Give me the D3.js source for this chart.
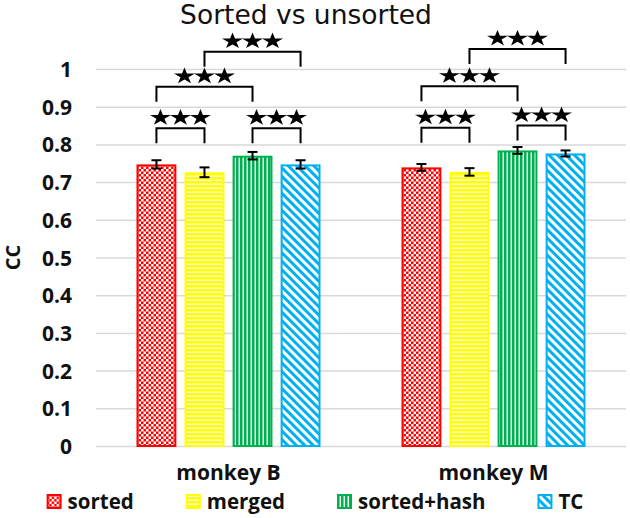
<!DOCTYPE html>
<html>
<head>
<meta charset="utf-8">
<script src="https://cdn.jsdelivr.net/npm/d3@7"></script>
<style>
  body { margin: 0; background: #fff; }
  svg { display: block; }
  .tick-label, .cat-label, .legend-label, .y-title { font-family: "Open Sans", sans-serif; font-weight: bold; fill: #111; }
</style>
</head>
<body>
<div id="chart"></div>
<script>
// data
const groups = ["monkey B", "monkey M"]
const seriesNames = ["sorted", "merged", "sorted+hash", "TC"]
const ccSorted = [0.747, 0.739]
const ccMerged = [0.726, 0.727]
const ccHash = [0.770, 0.784]
const ccTC = [0.747, 0.776]
const errSorted = [0.011, 0.009]
const errMerged = [0.013, 0.010]
const errHash = [0.010, 0.009]
const errTC = [0.011, 0.008]
const yTicks = [0, 0.1, 0.2, 0.3, 0.4, 0.5, 0.6, 0.7, 0.8, 0.9, 1]
// significance: group, from, to, bracket level (CC units), stars
const sigPairs = [
  ["monkey B", "sorted", "merged", 0.843, 3],
  ["monkey B", "sorted+hash", "TC", 0.843, 3],
  ["monkey B", "sorted", "sorted+hash", 0.953, 3],
  ["monkey B", "merged", "TC", 1.046, 3],
  ["monkey M", "sorted", "merged", 0.844, 3],
  ["monkey M", "sorted+hash", "TC", 0.850, 3],
  ["monkey M", "sorted", "sorted+hash", 0.954, 3],
  ["monkey M", "merged", "TC", 1.053, 3],
]

const means = [ccSorted, ccMerged, ccHash, ccTC]
const errs = [errSorted, errMerged, errHash, errTC]
const colors = ["#ff0000", "#ffff00", "#00b050", "#00b0f0"]
const patIds = ["pat_check", "pat_hlines", "pat_vlines", "pat_diag"]

const W = 630, H = 518
const dim = {ml: 96, mr: 4, mt: 69, mb: 72}
dim.width = W - dim.ml - dim.mr
dim.height = H - dim.mt - dim.mb

const svg = d3.select("#chart").append("svg").attr("width", W).attr("height", H)

const defs = svg.append("defs")
// red checkerboard
const pc = defs.append("pattern").attr("id", "pat_check").attr("patternUnits", "userSpaceOnUse")
  .attr("width", 5).attr("height", 5)
pc.append("rect").attr("width", 5).attr("height", 5).attr("fill", colors[0])
pc.append("rect").attr("width", 2.5).attr("height", 2.5).attr("fill", "#fff")
pc.append("rect").attr("x", 2.5).attr("y", 2.5).attr("width", 2.5).attr("height", 2.5).attr("fill", "#fff")
// yellow horizontal lines
const ph = defs.append("pattern").attr("id", "pat_hlines").attr("patternUnits", "userSpaceOnUse")
  .attr("width", 4).attr("height", 4)
ph.append("rect").attr("width", 4).attr("height", 4).attr("fill", colors[1])
ph.append("rect").attr("y", 2.5).attr("width", 4).attr("height", 1.5).attr("fill", "#fffbd0")
// green vertical lines
const pv = defs.append("pattern").attr("id", "pat_vlines").attr("patternUnits", "userSpaceOnUse")
  .attr("width", 4).attr("height", 4)
pv.append("rect").attr("width", 4).attr("height", 4).attr("fill", colors[2])
pv.append("rect").attr("x", 2.5).attr("width", 1.5).attr("height", 4).attr("fill", "#e8f8ee")
// blue diagonal lines
const pd = defs.append("pattern").attr("id", "pat_diag").attr("patternUnits", "userSpaceOnUse")
  .attr("width", 6).attr("height", 6).attr("patternTransform", "rotate(-45)")
pd.append("rect").attr("width", 6).attr("height", 6).attr("fill", "#fff")
pd.append("rect").attr("width", 3).attr("height", 6).attr("fill", colors[3])

const g = svg.append("g").attr("transform", "translate(" + dim.ml + "," + dim.mt + ")")

const x0 = d3.scaleBand().domain(groups).range([0, dim.width])
const x1 = d3.scaleBand().domain(seriesNames).range([40.5, x0.bandwidth() - 40.5]).paddingInner(0.17)
const y = d3.scaleLinear().domain([0, 1]).range([dim.height, 0])

// gridlines
const axisY = d3.axisLeft(y).tickValues(yTicks).tickSize(-dim.width).tickFormat(d => d)
const ga = g.append("g").call(axisY)
ga.select(".domain").remove()
ga.selectAll(".tick line").attr("stroke", "#d9d9d9").attr("stroke-width", 1.5)
ga.selectAll(".tick text").attr("class", "tick-label").attr("x", -24).attr("dy", "0.36em")
  .style("font-size", "21px").style("font-family", "'Open Sans', sans-serif").style("font-weight", "bold")
  .attr("fill", "#111")

// bars
const bars = []
groups.forEach((grp, gi) => {
  seriesNames.forEach((s, si) => {
    bars.push({grp, s, si, v: means[si][gi], e: errs[si][gi]})
  })
})

const bg = g.append("g")
bg.selectAll("rect.bar").data(bars).join("rect")
  .attr("class", "bar")
  .attr("x", d => x0(d.grp) + x1(d.s) + 1)
  .attr("y", d => y(d.v) + 1)
  .attr("width", x1.bandwidth() - 2)
  .attr("height", d => y(0) - y(d.v) - 1)
  .attr("fill", d => "url(#" + patIds[d.si] + ")")
  .attr("stroke", d => colors[d.si])
  .attr("stroke-width", 2)

// error bars
const eg = g.append("g").attr("stroke", "#000").attr("stroke-width", 2)
bars.forEach(d => {
  const cx = x0(d.grp) + x1(d.s) + x1.bandwidth() / 2
  eg.append("line").attr("x1", cx).attr("x2", cx).attr("y1", y(d.v - d.e)).attr("y2", y(d.v + d.e))
  eg.append("line").attr("x1", cx - 5).attr("x2", cx + 5).attr("y1", y(d.v - d.e)).attr("y2", y(d.v - d.e))
  eg.append("line").attr("x1", cx - 5).attr("x2", cx + 5).attr("y1", y(d.v + d.e)).attr("y2", y(d.v + d.e))
})

// significance brackets
const star = d3.symbol().type(d3.symbolStar).size(92)
const sg = g.append("g")
sigPairs.forEach(([grp, a, b, lvl, n]) => {
  const xa = x0(grp) + x1(a) + x1.bandwidth() / 2
  const xb = x0(grp) + x1(b) + x1.bandwidth() / 2
  const yl = y(lvl)
  sg.append("path")
    .attr("d", "M" + xa + "," + (yl + 15) + "V" + yl + "H" + xb + "V" + (yl + 15))
    .attr("fill", "none").attr("stroke", "#000").attr("stroke-width", 2)
  const cx = (xa + xb) / 2
  for (let i = 0; i < n; i++) {
    sg.append("path").attr("d", star())
      .attr("transform", "translate(" + (cx + (i - (n - 1) / 2) * 20) + "," + (yl - 10.5) + ") scale(1.22,0.95)")
      .attr("fill", "#000")
  }
})

// category labels
g.append("g").selectAll("text").data(groups).join("text")
  .attr("class", "cat-label")
  .attr("x", d => x0(d) + x0.bandwidth() / 2)
  .attr("y", dim.height + 34)
  .attr("text-anchor", "middle")
  .style("font-size", "21px")
  .text(d => d)

// y title
svg.append("text").attr("class", "y-title")
  .attr("transform", "translate(20," + (dim.mt + dim.height / 2) + ") rotate(-90)")
  .attr("text-anchor", "middle")
  .style("font-size", "20px")
  .text("CC")

// title
svg.append("text")
  .attr("x", 306).attr("y", 24)
  .attr("text-anchor", "middle")
  .style("font-family", "'DejaVu Sans', sans-serif")
  .style("font-size", "26.5px")
  .attr("fill", "#111")
  .text("Sorted vs unsorted")

// legend
const lg = svg.append("g")
const items = seriesNames.map((s, i) => {
  const it = lg.append("g")
  it.append("rect").attr("x", 1).attr("y", -14).attr("width", 13).attr("height", 13)
    .attr("fill", "url(#" + patIds[i] + ")").attr("stroke", colors[i]).attr("stroke-width", 2)
  const t = it.append("text").attr("class", "legend-label").attr("x", 21).attr("y", 0)
    .style("font-size", "20.5px").text(s)
  return {it, w: 21 + t.node().getComputedTextLength()}
})
const gap = 52
const total = d3.sum(items, d => d.w) + gap * (items.length - 1)
let lx = W / 2 - total / 2
items.forEach(d => {
  d.it.attr("transform", "translate(" + lx + ",509)")
  lx += d.w + gap
})
</script>
</body>
</html>
